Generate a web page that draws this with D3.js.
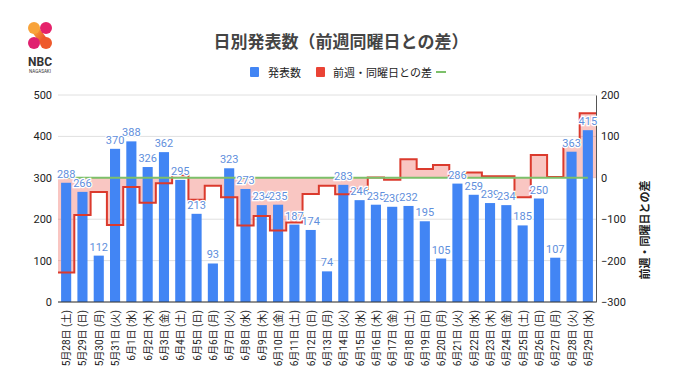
<!DOCTYPE html>
<html>
<head>
<meta charset="utf-8">
<script src="https://cdn.jsdelivr.net/npm/d3@7"></script>
<style>
  body { margin: 0; background: #fff; font-family: Roboto, "Noto Sans CJK JP", sans-serif; }
</style>
</head>
<body>
<div id="chart"></div>
<script>
// dates and weekdays
const dates = ["5月28日","5月29日","5月30日","5月31日","6月1日","6月2日","6月3日","6月4日","6月5日","6月6日","6月7日",
  "6月8日","6月9日","6月10日","6月11日","6月12日","6月13日","6月14日","6月15日","6月16日","6月17日","6月18日",
  "6月19日","6月20日","6月21日","6月22日","6月23日","6月24日","6月25日","6月26日","6月27日","6月28日","6月29日"];
const weekdays = ["土","日","月","火","水","木","金","土","日","月","火","水","木","金","土","日","月","火","水","木","金","土",
  "日","月","火","水","木","金","土","日","月","火","水"];
// 発表数
const counts = [288,266,112,370,388,326,362,295,213,93,323,273,234,235,187,174,74,283,246,235,230,232,195,105,286,259,239,234,185,250,107,363,415];
// 前週・同曜日との差
const diffs = [-229,-90,-34,-114,-22,-60,-13,7,-53,-19,-47,-115,-92,-127,-108,-39,-19,-40,-27,1,-5,45,21,31,3,13,4,4,-47,55,2,77,156];
const leftTicks = [0,100,200,300,400,500];
const rightTicks = [-300,-200,-100,0,100,200];

const W = 680, H = 382;
const m = {left: 58, right: 84, top: 95, bottom: 80};
const svg = d3.select("#chart").append("svg").attr("width", W).attr("height", H);

const x = d3.scaleBand().domain(d3.range(counts.length)).range([m.left, W - m.right]).paddingInner(0.38).paddingOuter(0.19);
const yL = d3.scaleLinear().domain([0, 500]).range([H - m.bottom, m.top]);
const yR = d3.scaleLinear().domain([-300, 200]).range([H - m.bottom, m.top]);
const step = x.step();

// gridlines
svg.append("g").selectAll("line").data(leftTicks).join("line")
  .attr("x1", m.left).attr("x2", W - m.right)
  .attr("y1", d => yL(d)).attr("y2", d => yL(d))
  .attr("stroke", "#e0e0e0").attr("stroke-width", 1);

// left axis
svg.append("g").attr("transform", `translate(${m.left - 6},0)`)
  .call(d3.axisLeft(yL).tickValues(leftTicks).tickSize(0).tickPadding(0))
  .call(g => g.select(".domain").remove())
  .selectAll("text").attr("font-size", 11).attr("fill", "#222").attr("font-family", "Roboto");

// right axis
svg.append("g").attr("transform", `translate(${W - m.right},0)`)
  .call(d3.axisRight(yR).tickValues(rightTicks).tickSize(0).tickPadding(5))
  .call(g => g.select(".domain").attr("stroke", "#555"))
  .selectAll("text").attr("font-size", 11).attr("fill", "#222").attr("font-family", "Roboto");

// step points for diffs (each step centered on its bar)
const stepPts = [];
diffs.forEach((d, i) => {
  const cx = x(i) + x.bandwidth() / 2;
  stepPts.push([cx - step / 2, d], [cx + step / 2, d]);
});
const area = d3.area().x(p => p[0]).y0(yR(0)).y1(p => yR(p[1]));
svg.append("path").datum(stepPts).attr("d", area)
  .attr("fill", "#ea4335").attr("fill-opacity", 0.3);

// bars
svg.append("g").selectAll("rect").data(counts).join("rect")
  .attr("x", (d, i) => x(i)).attr("width", x.bandwidth())
  .attr("y", d => yL(d)).attr("height", d => yL(0) - yL(d))
  .attr("fill", "#4285f4");

const line = d3.line().x(p => p[0]).y(p => yR(p[1]));
svg.append("path").datum(stepPts).attr("d", line)
  .attr("fill", "none").attr("stroke", "#db3a2d").attr("stroke-width", 2);

// zero reference line (green)
svg.append("line")
  .attr("x1", x(0) + x.bandwidth() / 2).attr("x2", x(counts.length - 1) + x.bandwidth() / 2)
  .attr("y1", yR(0)).attr("y2", yR(0))
  .attr("stroke", "#7cc06a").attr("stroke-width", 2);

// baseline
svg.append("line").attr("x1", m.left).attr("x2", W - m.right)
  .attr("y1", yL(0)).attr("y2", yL(0)).attr("stroke", "#333").attr("stroke-width", 1);

// value labels
svg.append("g").selectAll("text").data(counts).join("text")
  .attr("x", (d, i) => x(i) + x.bandwidth() / 2)
  .attr("y", d => yL(d) - 5)
  .attr("text-anchor", "middle")
  .attr("font-size", 11).attr("font-family", "Roboto")
  .attr("fill", "#5f8fdc")
  .attr("stroke", "#fff").attr("stroke-width", 2.5).attr("paint-order", "stroke")
  .text(d => d);

// x labels, rotated
svg.append("g").selectAll("text").data(dates).join("text")
  .attr("transform", (d, i) => `translate(${x(i) + x.bandwidth() / 2 + 4},${yL(0) + 8}) rotate(-90)`)
  .attr("text-anchor", "end")
  .attr("font-size", 10).attr("fill", "#222")
  .attr("font-family", "Roboto, 'Noto Sans CJK JP'")
  .text((d, i) => `${d} (${weekdays[i]})`);

// right axis title
svg.append("text")
  .attr("transform", `translate(649,230) rotate(-90)`)
  .attr("text-anchor", "middle")
  .attr("font-size", 11).attr("font-weight", "bold").attr("fill", "#222")
  .attr("font-family", "'Noto Sans CJK JP'")
  .text("前週・同曜日との差");

// title
svg.append("text").attr("x", 341).attr("y", 48).attr("text-anchor", "middle")
  .attr("font-size", 17).attr("font-weight", "bold").attr("fill", "#444")
  .attr("font-family", "'Noto Sans CJK JP'")
  .text("日別発表数（前週同曜日との差）");

// legend
const leg = svg.append("g").attr("font-size", 11).attr("fill", "#222").attr("font-family", "'Noto Sans CJK JP'");
leg.append("rect").attr("x", 250).attr("y", 67).attr("width", 9).attr("height", 10).attr("rx", 1).attr("fill", "#4285f4");
leg.append("text").attr("x", 268).attr("y", 76.5).text("発表数");
leg.append("rect").attr("x", 316).attr("y", 67).attr("width", 9).attr("height", 10).attr("rx", 1).attr("fill", "#ea4335");
leg.append("text").attr("x", 333).attr("y", 76.5).text("前週・同曜日との差");
leg.append("line").attr("x1", 436).attr("x2", 446).attr("y1", 72).attr("y2", 72)
  .attr("stroke", "#7cc06a").attr("stroke-width", 2);

// logo
const logo = svg.append("g").attr("transform", "translate(40,36)");
const grad = svg.append("defs").append("linearGradient").attr("id", "lg")
  .attr("x1", "0").attr("y1", "0").attr("x2", "1").attr("y2", "1");
grad.append("stop").attr("offset", "0").attr("stop-color", "#f9b233");
grad.append("stop").attr("offset", "1").attr("stop-color", "#e6332a");
logo.append("path").attr("d", "M-6,-8 L6,8").attr("stroke", "url(#lg)").attr("stroke-width", 8);
logo.append("circle").attr("cx", -6).attr("cy", -8).attr("r", 6).attr("fill", "#f8a33a");
logo.append("circle").attr("cx", 6).attr("cy", -8).attr("r", 6).attr("fill", "#e5226b");
logo.append("circle").attr("cx", -6).attr("cy", 7).attr("r", 6).attr("fill", "#e0206f");
logo.append("circle").attr("cx", 6).attr("cy", 7).attr("r", 6).attr("fill", "#ee5a2c");
svg.append("text").attr("x", 40).attr("y", 66).attr("text-anchor", "middle")
  .attr("font-size", 12).attr("font-weight", "bold").attr("fill", "#333").attr("font-family", "Roboto")
  .text("NBC");
svg.append("text").attr("x", 40).attr("y", 73).attr("text-anchor", "middle")
  .attr("font-size", 4.5).attr("fill", "#333").attr("font-family", "Roboto")
  .text("NAGASAKI");
</script>
</body>
</html>
